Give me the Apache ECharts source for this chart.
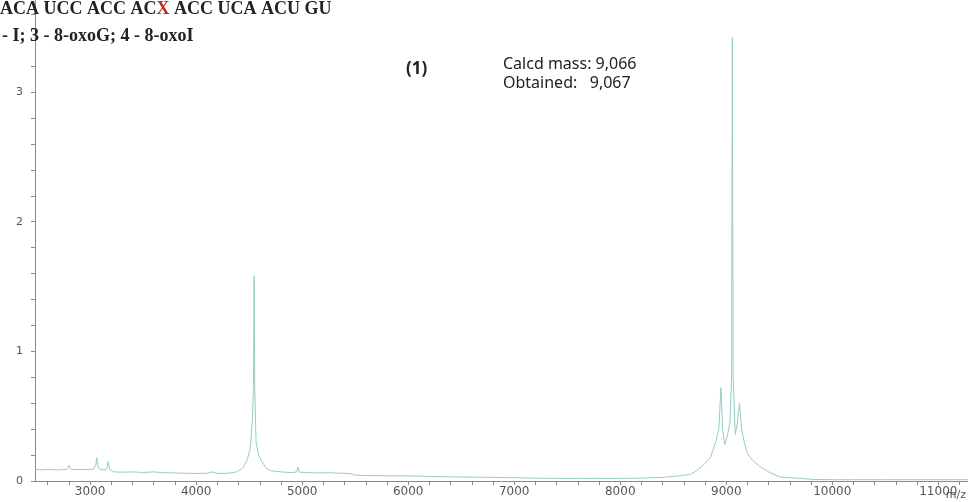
<!DOCTYPE html>
<html>
<head>
<meta charset="utf-8">
<script src="https://cdn.jsdelivr.net/npm/echarts@6/dist/echarts.min.js"></script>
<style>html,body{margin:0;padding:0;background:#fff}#c{width:968px;height:502px}</style>
</head>
<body>
<div id="c"></div>
<script>
// m/z values
const mz = [2480, 2550, 2620, 2700, 2780, 2800, 2820, 2900, 2980, 3030, 3055, 3063, 3075, 3100, 3140, 3160, 3170, 3185, 3220, 3300, 3400, 3500, 3600, 3700, 3800, 3900, 4000, 4100, 4150, 4200, 4300, 4380, 4440, 4480, 4510, 4530, 4540, 4547, 4553, 4565, 4590, 4620, 4660, 4700, 4800, 4900, 4950, 4960, 4975, 5050, 5150, 5250, 5350, 5450, 5500, 5600, 5800, 6000, 6200, 6400, 6600, 6800, 7000, 7200, 7400, 7600, 7800, 8000, 8200, 8400, 8500, 8600, 8660, 8720, 8780, 8850, 8900, 8930, 8950, 8965, 8985, 9010, 9035, 9050, 9057, 9065, 9085, 9105, 9125, 9145, 9170, 9200, 9260, 9320, 9400, 9510, 9600, 9700, 9825, 10000, 10200, 10500, 10800, 11100, 11280];
// intensity (a.u.)
const intensity = [0.09, 0.085, 0.09, 0.085, 0.09, 0.12, 0.09, 0.088, 0.09, 0.09, 0.13, 0.18, 0.1, 0.09, 0.085, 0.1, 0.15, 0.09, 0.07, 0.068, 0.07, 0.066, 0.07, 0.064, 0.062, 0.06, 0.058, 0.06, 0.07, 0.058, 0.06, 0.07, 0.1, 0.16, 0.25, 0.47, 0.7, 1.58, 0.7, 0.3, 0.2, 0.15, 0.1, 0.08, 0.07, 0.065, 0.07, 0.11, 0.068, 0.065, 0.062, 0.064, 0.06, 0.058, 0.045, 0.042, 0.04, 0.04, 0.035, 0.032, 0.03, 0.028, 0.025, 0.022, 0.02, 0.02, 0.02, 0.02, 0.022, 0.028, 0.035, 0.045, 0.05, 0.08, 0.12, 0.18, 0.3, 0.4, 0.72, 0.4, 0.28, 0.35, 0.45, 0.8, 3.42, 0.8, 0.36, 0.45, 0.6, 0.4, 0.3, 0.21, 0.15, 0.11, 0.07, 0.03, 0.025, 0.02, 0.012, 0.01, 0.01, 0.01, 0.01, 0.01, 0.01];
const xLabels = [3000, 4000, 5000, 6000, 7000, 8000, 9000, 10000, 11000];
const yLabels = [0, 1, 2, 3];
const xTicks = [];
for (let v = 2600; v <= 11200; v += 200) xTicks.push(v);
const yTicks = [];
for (let i = 0; i <= 18; i++) yTicks.push(+(i * 0.2).toFixed(1));

const data = mz.map((m, i) => [m, intensity[i]]);
const chart = echarts.init(document.getElementById('c'), null, {renderer: 'canvas'});
const axisColor = '#8a8a8a';
chart.setOption({
  animation: false,
  backgroundColor: '#fff',
  grid: {left: 35, right: 0, top: 0, bottom: 21, containLabel: false, outerBoundsMode: 'none'},
  xAxis: {
    type: 'value', min: 2480, max: 11280,
    axisLine: {show: true, lineStyle: {color: axisColor, width: 1}},
    axisTick: {show: true, inside: false, length: 4, customValues: xTicks, lineStyle: {color: axisColor}},
    axisLabel: {customValues: xLabels, formatter: v => String(v), color: '#555', fontSize: 12, fontFamily: 'DejaVu Sans', margin: 5},
    splitLine: {show: false}
  },
  yAxis: {
    type: 'value', min: 0, max: 3.71,
    axisLine: {show: true, lineStyle: {color: axisColor, width: 1}},
    axisTick: {show: true, inside: false, length: 4, customValues: yTicks, lineStyle: {color: axisColor}},
    axisLabel: {customValues: yLabels, formatter: v => String(v), color: '#555', fontSize: 11, fontFamily: 'DejaVu Sans', margin: 12},
    splitLine: {show: false}
  },
  series: [{
    type: 'line', data: data, showSymbol: false, smooth: false,
    lineStyle: {color: '#95cdc4', width: 1}
  }],
  graphic: [
    {type: 'text', left: 0, top: 0, z: 10, style: {
      text: '{a|ACA UCC ACC AC}{r|X}{a| ACC UCA ACU GU}',
      rich: {
        a: {font: 'bold 18px "Liberation Serif"', fill: '#222'},
        r: {font: 'bold 18px "Liberation Serif"', fill: '#c0282a'}
      }}},
    {type: 'text', left: 2, top: 27, z: 10, style: {
      text: '- I; 3 - 8-oxoG; 4 - 8-oxoI', font: 'bold 18px "Liberation Serif"', fill: '#222'}},
    {type: 'text', left: 406, top: 61, z: 10, style: {
      text: '(1)', font: 'bold 17px "Noto Sans"', fill: '#222'}},
    {type: 'text', left: 503, top: 55, z: 10, style: {
      text: 'Calcd mass: 9,066\nObtained:   9,067', font: '16px "Noto Sans"', lineHeight: 19, fill: '#222'}},
    {type: 'text', right: 2, top: 490, z: 10, style: {
      text: 'm/z', font: '11px "DejaVu Sans"', fill: '#555'}}
  ]
});
</script>
</body>
</html>
